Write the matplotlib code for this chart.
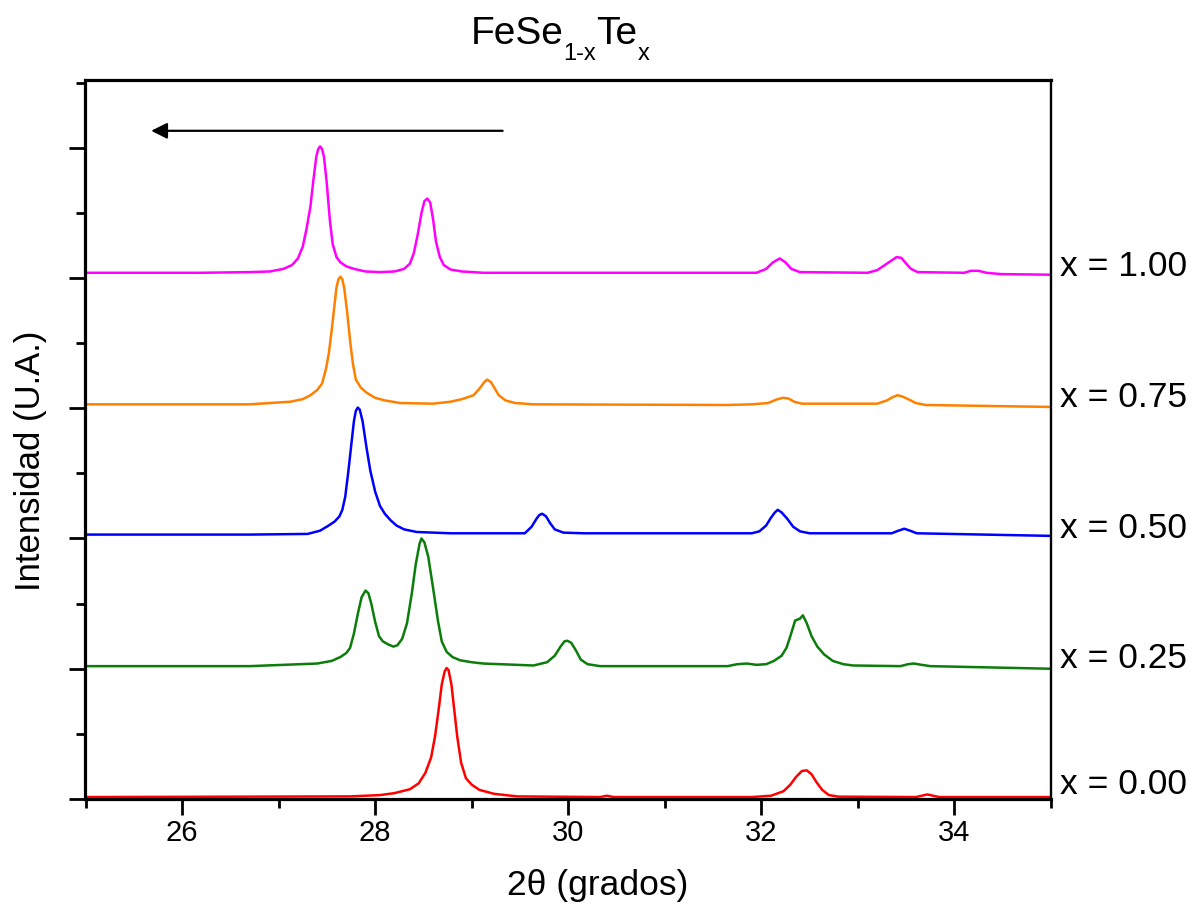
import matplotlib
matplotlib.use("Agg")
import matplotlib.pyplot as plt
from matplotlib.ticker import MultipleLocator

plt.rcParams['font.family'] = ['Liberation Sans', 'DejaVu Sans']

# XRD patterns (2theta in degrees, intensity in a.u. incl. stacking offset)
tt_x000 = [25.00, 27.74, 28.05, 28.20, 28.36, 28.45, 28.52, 28.58, 28.62, 28.66, 28.69,
           28.72, 28.74, 28.76, 28.79, 28.82, 28.85, 28.89, 28.94, 29.00, 29.08, 29.23,
           29.47, 30.33, 30.40, 30.47, 31.90, 32.10, 32.23, 32.30, 32.36, 32.42, 32.47,
           32.52, 32.57, 32.63, 32.70, 32.80, 33.60, 33.72, 33.84, 35.00]
int_x000 = [0.015, 0.02, 0.03, 0.045, 0.075, 0.12, 0.20, 0.32, 0.48, 0.70, 0.88,
            0.98, 1.005, 0.99, 0.88, 0.68, 0.48, 0.28, 0.16, 0.11, 0.07, 0.04,
            0.02, 0.015, 0.025, 0.015, 0.015, 0.025, 0.06, 0.11, 0.17, 0.215, 0.22,
            0.19, 0.13, 0.07, 0.03, 0.018, 0.015, 0.035, 0.015, 0.015]

tt_x025 = [25.00, 26.70, 27.40, 27.55, 27.64, 27.70, 27.74, 27.78, 27.82, 27.86, 27.90,
           27.93, 27.96, 28.00, 28.04, 28.08, 28.14, 28.19, 28.23, 28.28, 28.33, 28.38,
           28.42, 28.46, 28.48, 28.51, 28.55, 28.60, 28.65, 28.69, 28.74, 28.80, 28.88,
           29.00, 29.12, 29.64, 29.78, 29.86, 29.92, 29.96, 29.99, 30.03, 30.08, 30.13,
           30.20, 30.33, 31.65, 31.75, 31.85, 31.95, 32.05, 32.13, 32.21, 32.26, 32.30,
           32.35, 32.40, 32.43, 32.47, 32.52, 32.58, 32.65, 32.74, 32.85, 32.95, 33.44,
           33.52, 33.58, 33.66, 33.75, 35.00]
int_x025 = [1.02, 1.02, 1.04, 1.06, 1.09, 1.12, 1.16, 1.27, 1.42, 1.55, 1.60,
            1.58, 1.50, 1.36, 1.25, 1.21, 1.185, 1.17, 1.18, 1.23, 1.35, 1.58,
            1.80, 1.96, 2.00, 1.97, 1.86, 1.62, 1.37, 1.21, 1.13, 1.09, 1.065,
            1.05, 1.04, 1.025, 1.05, 1.10, 1.17, 1.21, 1.215, 1.20, 1.14, 1.07,
            1.035, 1.02, 1.02, 1.035, 1.04, 1.03, 1.035, 1.06, 1.10, 1.16, 1.25,
            1.37, 1.385, 1.41, 1.35, 1.25, 1.17, 1.11, 1.06, 1.035, 1.025, 1.02,
            1.035, 1.04, 1.03, 1.02, 1.00]

tt_x050 = [25.00, 26.70, 27.30, 27.43, 27.52, 27.58, 27.63, 27.66, 27.69, 27.72, 27.75,
           27.78, 27.80, 27.82, 27.84, 27.87, 27.91, 27.95, 28.00, 28.05, 28.10, 28.16,
           28.22, 28.30, 28.43, 28.78, 29.55, 29.62, 29.67, 29.70, 29.73, 29.77, 29.81,
           29.86, 29.95, 30.16, 31.90, 31.98, 32.05, 32.10, 32.14, 32.17, 32.21, 32.27,
           32.33, 32.40, 32.50, 33.35, 33.42, 33.48, 33.54, 33.61, 35.00]
int_x050 = [2.03, 2.03, 2.035, 2.06, 2.10, 2.13, 2.17, 2.22, 2.32, 2.50, 2.70,
            2.90, 2.98, 3.005, 2.99, 2.90, 2.70, 2.52, 2.36, 2.25, 2.19, 2.14,
            2.10, 2.07, 2.05, 2.04, 2.04, 2.09, 2.15, 2.18, 2.19, 2.17, 2.12,
            2.07, 2.045, 2.04, 2.04, 2.055, 2.10, 2.16, 2.20, 2.22, 2.20, 2.15,
            2.09, 2.055, 2.04, 2.04, 2.06, 2.075, 2.06, 2.04, 2.02]

tt_x075 = [25.00, 26.70, 27.12, 27.25, 27.33, 27.40, 27.45, 27.49, 27.52, 27.55, 27.58,
           27.60, 27.62, 27.64, 27.66, 27.68, 27.71, 27.74, 27.77, 27.80, 27.85, 27.91,
           28.00, 28.10, 28.26, 28.60, 28.78, 28.90, 29.02, 29.08, 29.13, 29.16, 29.20,
           29.24, 29.28, 29.35, 29.45, 29.64, 31.65, 31.90, 32.07, 32.15, 32.22, 32.28,
           32.34, 32.42, 33.20, 33.30, 33.36, 33.41, 33.46, 33.52, 33.60, 33.70, 35.00]
int_x075 = [3.03, 3.03, 3.05, 3.07, 3.10, 3.14, 3.19, 3.30, 3.42, 3.60, 3.80,
            3.93, 3.99, 4.01, 3.99, 3.92, 3.74, 3.52, 3.34, 3.22, 3.16, 3.12,
            3.08, 3.06, 3.04, 3.035, 3.05, 3.07, 3.10, 3.15, 3.20, 3.22, 3.20,
            3.15, 3.10, 3.06, 3.04, 3.03, 3.025, 3.03, 3.04, 3.065, 3.08, 3.075,
            3.05, 3.035, 3.035, 3.06, 3.085, 3.10, 3.09, 3.07, 3.04, 3.025, 3.01]

tt_x100 = [25.00, 26.19, 26.70, 26.91, 27.05, 27.14, 27.20, 27.25, 27.29, 27.33, 27.36,
           27.39, 27.41, 27.43, 27.45, 27.47, 27.50, 27.53, 27.56, 27.60, 27.64, 27.70,
           27.78, 27.90, 28.05, 28.20, 28.30, 28.36, 28.40, 28.44, 28.48, 28.51, 28.54,
           28.57, 28.60, 28.63, 28.67, 28.71, 28.78, 28.90, 29.12, 30.33, 31.95, 32.05,
           32.12, 32.19, 32.25, 32.31, 32.40, 33.10, 33.20, 33.28, 33.34, 33.40, 33.45,
           33.50, 33.55, 33.62, 34.10, 34.17, 34.25, 34.33, 34.48, 35.00]
int_x100 = [4.04, 4.04, 4.045, 4.05, 4.07, 4.10, 4.15, 4.24, 4.38, 4.55, 4.75,
            4.93, 4.99, 5.01, 4.99, 4.93, 4.72, 4.45, 4.26, 4.16, 4.12, 4.09,
            4.07, 4.05, 4.045, 4.05, 4.07, 4.11, 4.19, 4.33, 4.50, 4.59, 4.61,
            4.58, 4.45, 4.28, 4.16, 4.10, 4.065, 4.05, 4.04, 4.04, 4.04, 4.07,
            4.12, 4.15, 4.12, 4.07, 4.045, 4.04, 4.06, 4.10, 4.13, 4.16, 4.155,
            4.11, 4.07, 4.045, 4.04, 4.055, 4.055, 4.04, 4.03, 4.025]

labels = ["x = 0.00", "x = 0.25", "x = 0.50", "x = 0.75", "x = 1.00"]
label_y = [0.115, 1.08, 2.08, 3.08, 4.09]
colors = ["#ff0000", "#0a7d0a", "#0000ff", "#ff8000", "#ff00ff"]
curves = [(tt_x000, int_x000), (tt_x025, int_x025), (tt_x050, int_x050),
          (tt_x075, int_x075), (tt_x100, int_x100)]

W, H = 1196, 909
fig = plt.figure(figsize=(W / 100, H / 100), dpi=100)
ax = fig.add_axes([85.5 / W, 1 - 799 / H, 965.5 / W, 719 / H])

for (tt, inten), c in zip(curves, colors):
    ax.plot(tt, inten, color=c, lw=1.8)

for lab, ly in zip(labels, label_y):
    ax.text(1.009, ly, lab, transform=ax.get_yaxis_transform(), fontsize=25.5,
            va='center', ha='left')

# shift arrow
ax.annotate("", xy=(25.68, 5.13), xytext=(29.32, 5.13),
            arrowprops=dict(arrowstyle='-|>', color='black', lw=1.6,
                            mutation_scale=24, shrinkA=0, shrinkB=0))

ax.set_xlim(25, 35)
ax.set_ylim(0, 5.52)
ax.xaxis.set_major_locator(MultipleLocator(2))
ax.xaxis.set_minor_locator(MultipleLocator(1))
ax.yaxis.set_major_locator(MultipleLocator(1))
ax.yaxis.set_minor_locator(MultipleLocator(0.5))
ax.tick_params(which='major', direction='out', length=11.5, width=2.0, labelsize=21)
ax.tick_params(which='minor', direction='out', length=6.5, width=2.0)
ax.tick_params(axis='y', which='both', labelleft=False)
ax.tick_params(axis='x', pad=3)

for side in ['left', 'bottom', 'top']:
    ax.spines[side].set_linewidth(2.3)
ax.spines['right'].set_linewidth(1.7)

ax.set_xlabel("2θ (grados)", fontsize=25.5)
ax.xaxis.set_label_coords(0.53, -0.097)
ax.set_ylabel("Intensidad (U.A.)", fontsize=25)
ax.yaxis.set_label_coords(-0.04, 0.47)

# title with low subscripts, built piece by piece
renderer = fig.canvas.get_renderer()
pieces = [("FeSe", 28, 44), ("1-x", 17, 60), ("Te", 28, 44), ("x", 17, 60)]
texts = []
total = 0
for s, fs, base in pieces:
    t = fig.text(0, 1 - base / H, s, fontsize=fs, va='baseline', ha='left')
    w = t.get_window_extent(renderer).width
    texts.append((t, w))
    total += w
x0 = 560 - total / 2
for t, w in texts:
    t.set_x(x0 / W)
    x0 += w

fig.savefig("out.png", dpi=100)
